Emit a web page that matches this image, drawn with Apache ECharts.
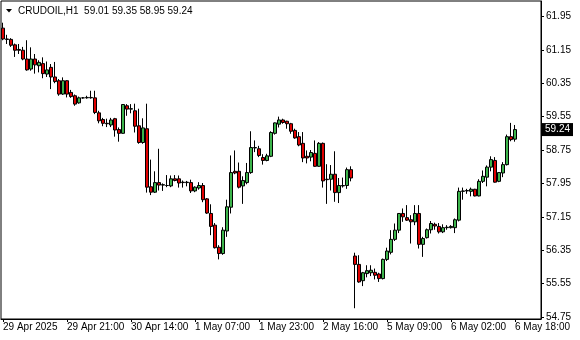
<!DOCTYPE html>
<html>
<head>
<meta charset="utf-8">
<script src="https://cdn.jsdelivr.net/npm/echarts@6/dist/echarts.min.js"></script>
<style>html,body{margin:0;padding:0;background:#fff}#c{width:580px;height:340px}</style>
</head>
<body>
<div id="c"></div>
<script>
const symbolName = 'CRUDOIL';
const period = 'H1';
const opens = [61.67,61.41,61.40,61.27,61.16,61.14,60.93,60.69,60.93,60.77,
60.82,60.57,60.73,60.50,60.41,60.09,60.41,60.13,60.05,59.88,
60.00,60.00,60.01,60.00,59.64,59.48,59.39,59.35,59.50,59.24,
59.15,59.81,59.73,59.69,59.33,58.93,59.26,57.87,57.74,57.97,
57.91,57.90,57.89,58.06,58.06,57.98,57.97,57.97,57.77,57.84,
57.90,57.58,57.23,56.95,56.42,56.27,56.81,57.38,58.24,58.24,
57.89,57.97,58.21,58.80,58.78,58.57,58.50,58.60,59.15,59.37,
59.47,59.44,59.38,59.22,59.07,58.91,58.60,58.58,58.67,58.36,
58.91,58.05,58.05,58.17,57.73,57.89,57.90,58.28,56.21,56.01,
55.62,55.79,55.81,55.82,55.78,55.67,56.13,56.30,56.61,56.83,
57.23,57.13,57.08,57.03,57.23,56.49,56.65,56.84,56.97,56.92,
56.79,56.89,56.89,56.89,57.07,57.76,57.77,57.76,57.81,57.65,
58.00,58.10,58.34,58.50,58.00,58.20,58.40,59.07,59.01];
const highs = [61.80,61.51,61.43,61.30,61.29,61.22,61.38,61.21,61.05,60.90,
60.97,60.87,60.81,60.86,60.45,60.49,60.42,60.19,60.08,60.03,
60.02,60.05,60.17,60.17,59.69,59.52,59.50,59.52,59.52,59.29,
59.85,59.85,59.85,59.86,59.74,59.51,59.86,58.52,58.24,58.78,
57.95,58.15,58.14,58.15,58.14,58.02,58.01,58.04,57.88,57.98,
57.96,57.60,57.45,57.00,56.47,56.90,57.56,58.62,58.74,58.45,
58.12,58.44,59.20,58.98,58.85,58.65,58.66,59.20,59.41,59.55,
59.50,59.45,59.40,59.26,59.18,59.18,58.74,58.75,58.98,58.94,
58.93,58.41,58.39,58.72,58.08,58.09,58.33,58.36,56.29,56.23,
55.83,55.99,55.99,55.91,55.81,56.15,56.41,56.83,56.99,57.24,
57.35,57.43,57.19,57.43,57.43,56.67,56.87,57.05,57.01,57.00,
56.97,56.95,56.95,57.11,57.85,57.85,57.82,57.85,57.82,58.05,
58.26,58.38,58.60,58.58,58.22,58.46,59.12,59.40,59.35];
const lows = [61.38,61.29,61.22,60.98,61.05,60.90,60.65,60.65,60.58,60.61,
60.47,60.50,60.21,60.35,60.05,60.07,60.01,60.00,59.81,59.86,
59.98,59.98,59.98,59.61,59.39,59.32,59.30,59.30,59.07,58.95,
59.14,59.57,59.63,59.17,58.90,58.90,57.73,57.67,57.72,57.78,
57.77,57.86,57.86,58.00,57.85,57.85,57.88,57.72,57.74,57.80,
57.50,57.22,56.71,56.39,56.13,56.24,56.67,57.23,58.17,57.83,
57.46,57.93,58.18,58.70,58.58,58.40,58.48,58.58,59.12,59.29,
59.38,59.26,59.14,59.02,58.84,58.46,58.43,58.48,58.35,58.35,
57.85,57.46,57.78,57.51,57.48,57.85,57.82,58.00,54.96,55.57,
55.49,55.70,55.73,55.65,55.59,55.65,56.09,56.25,56.57,56.76,
57.03,57.05,56.51,56.95,56.39,56.19,56.63,56.75,56.84,56.75,
56.76,56.84,56.87,56.76,57.04,57.56,57.70,57.64,57.64,57.64,
57.96,57.88,58.24,57.97,57.98,58.10,58.38,58.96,58.95];
const closes = [61.41,61.40,61.26,61.14,61.14,60.93,60.67,60.93,60.79,60.85,
60.58,60.67,60.50,60.39,60.09,60.41,60.09,60.03,59.85,60.00,
60.00,60.01,60.00,59.65,59.45,59.39,59.38,59.47,59.23,59.15,
59.84,59.73,59.74,59.32,58.93,59.28,57.86,57.74,57.97,57.91,
57.92,57.90,58.06,58.02,57.96,57.97,57.98,57.77,57.86,57.90,
57.56,57.24,56.92,56.41,56.27,56.83,57.39,58.21,58.20,57.86,
58.02,58.21,58.81,58.81,58.62,58.50,58.61,59.17,59.40,59.47,
59.41,59.38,59.20,59.04,58.87,58.56,58.56,58.69,58.36,58.91,
58.01,58.04,58.17,57.73,57.90,57.90,58.28,58.08,56.01,55.59,
55.81,55.86,55.87,55.75,55.67,56.13,56.33,56.61,56.83,57.23,
57.15,57.07,57.03,57.23,56.49,56.63,56.84,56.99,56.93,56.79,
56.89,56.90,56.92,57.08,57.76,57.77,57.78,57.81,57.65,58.00,
58.12,58.34,58.52,57.98,58.21,58.40,59.07,59.00,59.24];
const timeTickIndex = [0,16,32,48,64,80,96,112,128];
const timeTickLabels = ['29 Apr 2025','29 Apr 21:00','30 Apr 14:00','1 May 07:00','1 May 23:00','2 May 16:00','5 May 09:00','6 May 02:00','6 May 18:00'];
const priceTicks = [54.75,55.55,56.35,57.15,57.95,58.75,59.55,60.35,61.15,61.95];
const emptySlotsRight = 6;

const n = opens.length;
const slots = [];
for (let i = 0; i < n + emptySlotsRight; i++) slots.push(String(i));
const labelMap = {};
timeTickIndex.forEach((idx, j) => { labelMap[idx] = timeTickLabels[j]; });
const isTick = (i) => labelMap[i] !== undefined;
const candles = opens.map((o, i) => [o, closes[i], lows[i], highs[i]]);
const last = n - 1;
const lastClose = closes[last];
const FONT = 'Liberation Sans';

const chart = echarts.init(document.getElementById('c'), null, {renderer: 'canvas'});
chart.setOption({
  animation: false,
  backgroundColor: '#ffffff',
  textStyle: {fontFamily: FONT},
  title: {
    text: symbolName + ',' + period + '  ' + [opens[last], highs[last], lows[last], closes[last]].map(v => v.toFixed(2)).join(' '),
    left: 18, top: 6, padding: 0,
    textStyle: {fontSize: 10, fontWeight: 'normal', color: '#000', fontFamily: FONT}
  },
  graphic: [{type: 'polygon', shape: {points: [[6, 9], [12, 9], [9, 12.5]]}, style: {fill: '#000'}}],
  grid: {left: 1, top: 1, width: 540, height: 318, show: true, borderColor: '#000', borderWidth: 1},
  xAxis: {
    type: 'category', data: slots, boundaryGap: true,
    axisLine: {show: true, lineStyle: {color: '#000', width: 1}},
    axisTick: {show: true, alignWithLabel: true, interval: (i) => isTick(i), length: 3, lineStyle: {color: '#000'}},
    axisLabel: {show: true, interval: (i) => isTick(i), formatter: (v, i) => labelMap[+v] || '', align: 'left', margin: 3,
      fontSize: 10, color: '#000', fontFamily: FONT, hideOverlap: false, showMinLabel: true, showMaxLabel: true},
    splitLine: {show: false}
  },
  yAxis: {
    type: 'value', position: 'right', min: 54.702, max: 62.32,
    axisLine: {show: true, lineStyle: {color: '#000', width: 1}},
    axisTick: {show: true, length: 3, customValues: priceTicks, lineStyle: {color: '#000'}},
    axisLabel: {show: true, customValues: priceTicks, formatter: (v) => Number(v).toFixed(2), margin: 5,
      fontSize: 10, color: '#000', fontFamily: FONT, align: 'left', hideOverlap: false},
    splitLine: {show: false}
  },
  series: [{
    type: 'candlestick',
    data: candles,
    barWidth: 3,
    itemStyle: {color: '#3cb44b', color0: '#e00000', borderColor: '#000', borderColor0: '#000', borderWidth: 1},
    markLine: {
      silent: true, animation: false, symbol: 'none',
      lineStyle: {color: 'rgba(0,0,0,0)', width: 1, type: 'solid'},
      label: {show: true, position: 'end', formatter: lastClose.toFixed(2), backgroundColor: '#000', color: '#fff',
        padding: [2, 3, 1, 3], fontSize: 10, fontFamily: FONT, distance: 1},
      data: [{yAxis: lastClose}]
    }
  }]
});
</script>
</body>
</html>
